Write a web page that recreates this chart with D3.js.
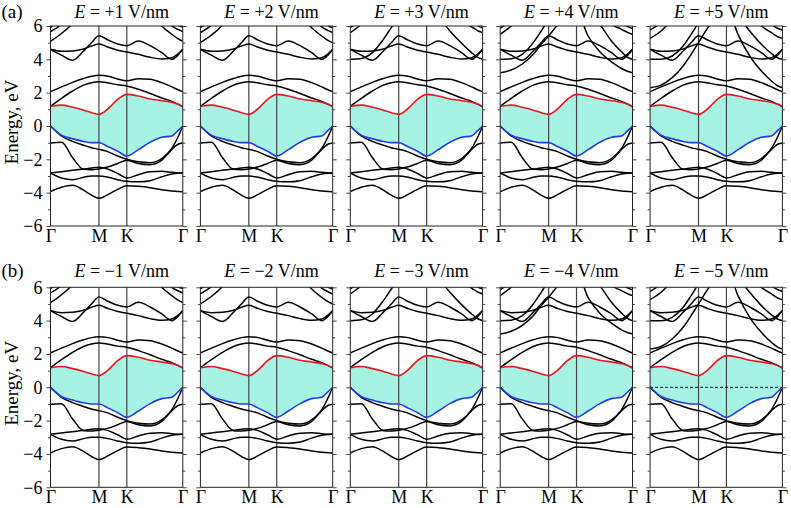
<!DOCTYPE html>
<html><head><meta charset="utf-8">
<script src="https://cdn.jsdelivr.net/npm/d3@7"></script>
<style>body{margin:0;background:#fff}svg{display:block}</style>
</head><body>
<svg id="chart" width="791" height="508"></svg>
<script>
// ---------- data ----------
const kFrac = [0, 0.083, 0.167, 0.25, 0.31, 0.366, 0.437, 0.508, 0.577, 0.664, 0.753, 0.841, 0.917, 0.967, 1];
const kTickLabels = ["Γ", "M", "K", "Γ"];
const kTickPos = [0, 0.366, 0.577, 1];
const fieldTop = ["+1", "+2", "+3", "+4", "+5"];
const fieldBottom = ["−1", "−2", "−3", "−4", "−5"];
const yTickValues = [-6, -4, -2, 0, 2, 4, 6];
const yMinorValues = [-5, -3, -1, 1, 3, 5];

// conduction band minimum (red) and valence band maximum (blue)
const cbm = [1.18, 1.25, 1.12, 0.95, 0.8, 0.7, 1.05, 1.6, 1.9, 1.8, 1.62, 1.52, 1.42, 1.3, 1.16];
const vbm = [0, -0.55, -0.76, -0.93, -1.0, -1.0, -1.25, -1.52, -1.8, -1.42, -0.98, -0.68, -0.6, -0.25, 0];

// bands common to all fields
const lb1 = [0, -0.6, -0.92, -1.15, -1.3, -1.4, -1.55, -1.8, -2.0, -2.15, -2.2, -1.95, -1.35, -0.6, 0];
const lb2 = [-1.02, -0.98, -1.9, -2.6, -2.62, -2.58, -2.45, -2.25, -2.05, -2.25, -2.32, -2.05, -1.4, -1.08, -1.02];
const lb3 = [-2.82, -2.74, -2.66, -2.58, -2.52, -2.48, -2.6, -2.85, -3.12, -2.92, -2.75, -2.72, -2.78, -2.82, -2.82];
const lb4 = [-2.82, -3.12, -3.22, -3.08, -3.0, -3.0, -3.08, -3.22, -3.32, -3.35, -3.28, -3.05, -2.88, -2.83, -2.82];
const lb5 = [-3.94, -3.68, -3.56, -3.85, -4.15, -4.34, -4.1, -3.8, -3.58, -3.62, -3.7, -3.82, -3.9, -3.93, -3.94];
const ub1 = [1.18, 1.66, 2.1, 2.45, 2.6, 2.66, 2.58, 2.47, 2.4, 2.2, 1.95, 1.68, 1.48, 1.3, 1.16];
const ub2 = [2.06, 2.35, 2.62, 2.85, 2.98, 3.04, 2.98, 2.82, 2.72, 2.84, 2.8, 2.6, 2.35, 2.16, 2.06];
const ub3 = [4.6, 4.25, 3.95, 4.5, 5.0, 5.42, 5.15, 4.92, 4.82, 5.1, 4.82, 4.4, 4.0, 4.28, 4.6];
const ub4 = [4.6, 4.48, 4.5, 4.62, 4.8, 4.92, 4.72, 4.55, 4.44, 4.3, 4.12, 4.02, 4.1, 4.35, 4.6];

// field-dependent upper bands (|E| = 1..5 V/nm)
const up1a = [5.08, 5.55, 6.15, 7.0, 7.5, 7.8, 7.8, 7.8, 7.8, 7.5, 6.9, 6.0, 5.5, 5.22, 5.08];
const up1b = [5.66, 6.1, 6.8, 7.5, 7.8, 8, 8, 8, 8, 7.8, 7.4, 6.7, 6.0, 5.78, 5.66];
const up1c = [5.92, 6.4, 7.0, 7.6, 8, 8, 8, 8, 8, 8, 7.6, 7.0, 6.3, 6.02, 5.92];
const up2a = [5.0, 5.45, 6.05, 6.9, 7.5, 7.8, 7.8, 7.8, 7.8, 7.4, 6.7, 5.9, 5.4, 5.12, 5.0];
const up2b = [5.6, 6.05, 6.75, 7.5, 7.8, 8, 8, 8, 8, 7.8, 7.3, 6.6, 5.95, 5.72, 5.6];
const up2c = [5.9, 6.4, 7.0, 7.6, 8, 8, 8, 8, 8, 8, 7.6, 7.0, 6.3, 6.0, 5.9];
const up3a = [4.0, 4.05, 4.4, 5.2, 5.9, 6.5, 7.2, 7.6, 7.6, 6.6, 5.7, 4.96, 4.4, 4.1, 4.0];
const up3b = [5.6, 6.1, 6.8, 7.5, 7.8, 8, 8, 8, 8, 7.6, 6.9, 6.3, 5.95, 5.7, 5.6];
const up3c = [5.9, 6.4, 7.0, 7.6, 8, 8, 8, 8, 8, 8, 7.5, 6.9, 6.3, 6.0, 5.9];
const up4a = [3.2, 3.36, 3.72, 4.3, 4.9, 5.4, 6.1, 6.6, 6.9, 5.4, 4.45, 3.85, 3.45, 3.27, 3.2];
const up4b = [4.0, 4.03, 4.3, 5.0, 5.7, 6.4, 7.2, 7.6, 7.6, 6.9, 6.1, 5.1, 4.45, 4.1, 4.0];
const up4c = [5.5, 6.0, 6.7, 7.4, 7.8, 8, 8, 8, 8, 7.6, 6.8, 6.1, 5.8, 5.6, 5.5];
const up4d = [5.85, 6.35, 7.0, 7.6, 8, 8, 8, 8, 8, 8, 7.5, 6.8, 6.2, 5.95, 5.85];
const up5a = [2.3, 2.45, 2.9, 3.6, 4.3, 5.0, 5.9, 6.6, 7.2, 5.5, 4.2, 3.3, 2.7, 2.4, 2.3];
const up5b = [4.0, 4.0, 4.2, 4.8, 5.5, 6.2, 7.0, 7.5, 7.5, 6.6, 5.7, 4.9, 4.35, 4.08, 4.0];
const up5c = [5.26, 5.7, 6.4, 7.2, 7.6, 8, 8, 8, 8, 7.5, 6.7, 6.0, 5.6, 5.35, 5.26];
const up5d = [5.76, 6.2, 6.9, 7.5, 8, 8, 8, 8, 8, 8, 7.4, 6.7, 6.1, 5.85, 5.76];

const commonBands = [lb1, lb2, lb3, lb4, lb5, ub1, ub2, ub3, ub4];
const fieldBands = [
  [up1a, up1b, up1c],
  [up2a, up2b, up2c],
  [up3a, up3b, up3c],
  [up4a, up4b, up4c, up4d],
  [up5a, up5b, up5c, up5d]
];

// ---------- drawing ----------
const svg = d3.select("#chart");
const serif = "'Liberation Serif', 'Times New Roman', serif";
const panelLeft0 = 50.5, panelStep = 149.9, panelW = 132.3;
const rows = [
  {top: 26, bottom: 226, fields: fieldTop, tag: "(a)", titleY: 17.5, labelY: 242},
  {top: 287.3, bottom: 487.3, fields: fieldBottom, tag: "(b)", titleY: 276.5, labelY: 503.5}
];

rows.forEach((row, ri) => {
  const y = d3.scaleLinear().domain([-6, 6]).range([row.bottom, row.top]);
  svg.append("text").attr("x", 1.5).attr("y", row.titleY).attr("font-family", serif)
    .attr("font-size", 19).text(row.tag);
  svg.append("text")
    .attr("transform", `translate(17.5,${(row.top + row.bottom) / 2 - 4}) rotate(-90)`)
    .attr("text-anchor", "middle").attr("font-family", serif).attr("font-size", 19)
    .text("Energy, eV");

  for (let p = 0; p < 5; p++) {
    const left = panelLeft0 + p * panelStep;
    const x = d3.scaleLinear().domain([0, 1]).range([left, left + panelW]);
    const g = svg.append("g");
    const clipId = `clip-${ri}-${p}`;
    g.append("clipPath").attr("id", clipId).append("rect")
      .attr("x", left).attr("y", row.top).attr("width", panelW).attr("height", row.bottom - row.top);
    const body = g.append("g").attr("clip-path", `url(#${clipId})`);

    const idx = d3.range(kFrac.length);
    const area = d3.area().curve(d3.curveMonotoneX)
      .x(i => x(kFrac[i])).y0(i => y(vbm[i])).y1(i => y(cbm[i]));
    body.append("path").attr("d", area(idx)).attr("fill", "#a6f3e3");

    // high-symmetry vertical lines
    [kTickPos[1], kTickPos[2]].forEach(kp => {
      body.append("line").attr("x1", x(kp)).attr("x2", x(kp))
        .attr("y1", row.top).attr("y2", row.bottom)
        .attr("stroke", "#444").attr("stroke-width", 1.2);
    });

    const line = d3.line().curve(d3.curveMonotoneX)
      .x((d, i) => x(kFrac[i])).y(d => y(d));
    commonBands.concat(fieldBands[p]).forEach(b => {
      body.append("path").attr("d", line(b)).attr("fill", "none")
        .attr("stroke", "#000").attr("stroke-width", 1.5);
    });
    body.append("path").attr("d", line(cbm)).attr("fill", "none")
      .attr("stroke", "#e8161e").attr("stroke-width", 1.6);
    body.append("path").attr("d", line(vbm)).attr("fill", "none")
      .attr("stroke", "#1f3fe6").attr("stroke-width", 1.6);

    if (ri === 1 && p === 4) {
      body.append("line").attr("x1", x(0)).attr("x2", x(1))
        .attr("y1", y(0)).attr("y2", y(0))
        .attr("stroke", "#000").attr("stroke-width", 0.9).attr("stroke-dasharray", "3,2");
    }

    // frame
    g.append("rect").attr("x", left).attr("y", row.top).attr("width", panelW)
      .attr("height", row.bottom - row.top).attr("fill", "none")
      .attr("stroke", "#222").attr("stroke-width", 1);

    // y ticks on both sides, outward
    const axL = d3.axisLeft(y).tickValues(yTickValues).tickSize(4).tickFormat(p === 0 ? (d => d < 0 ? "−" + Math.abs(d) : d) : "");
    const axR = d3.axisRight(y).tickValues(yTickValues).tickSize(4).tickFormat("");
    const gl = g.append("g").attr("transform", `translate(${left},0)`).call(axL);
    const gr = g.append("g").attr("transform", `translate(${left + panelW},0)`).call(axR);
    const mL = d3.axisLeft(y).tickValues(yMinorValues).tickSize(2.5).tickFormat("");
    const mR = d3.axisRight(y).tickValues(yMinorValues).tickSize(2.5).tickFormat("");
    const gml = g.append("g").attr("transform", `translate(${left},0)`).call(mL);
    const gmr = g.append("g").attr("transform", `translate(${left + panelW},0)`).call(mR);
    [gl, gr, gml, gmr].forEach(a => {
      a.select(".domain").remove();
      a.selectAll("line").attr("stroke", "#444");
      a.selectAll("text").attr("font-family", serif).attr("font-size", 18).attr("fill", "#000");
    });
    gl.selectAll("text").attr("x", -8);

    // k-point labels
    const ax = d3.axisBottom(x).tickValues(kTickPos).tickSize(0)
      .tickFormat((d, i) => kTickLabels[i]);
    const gx = g.append("g").attr("transform", `translate(0,${row.bottom})`).call(ax);
    gx.select(".domain").remove();
    gx.selectAll("text").attr("font-family", serif).attr("font-size", 18)
      .attr("fill", "#000").attr("dy", null).attr("y", row.labelY - row.bottom);

    // title
    const t = svg.append("text").attr("x", left + panelW / 2 + 5).attr("y", row.titleY)
      .attr("text-anchor", "middle").attr("font-family", serif).attr("font-size", 18);
    t.append("tspan").attr("font-style", "italic").text("E");
    t.append("tspan").text(` = ${row.fields[p]} V/nm`);
  }
});
</script>
</body></html>
